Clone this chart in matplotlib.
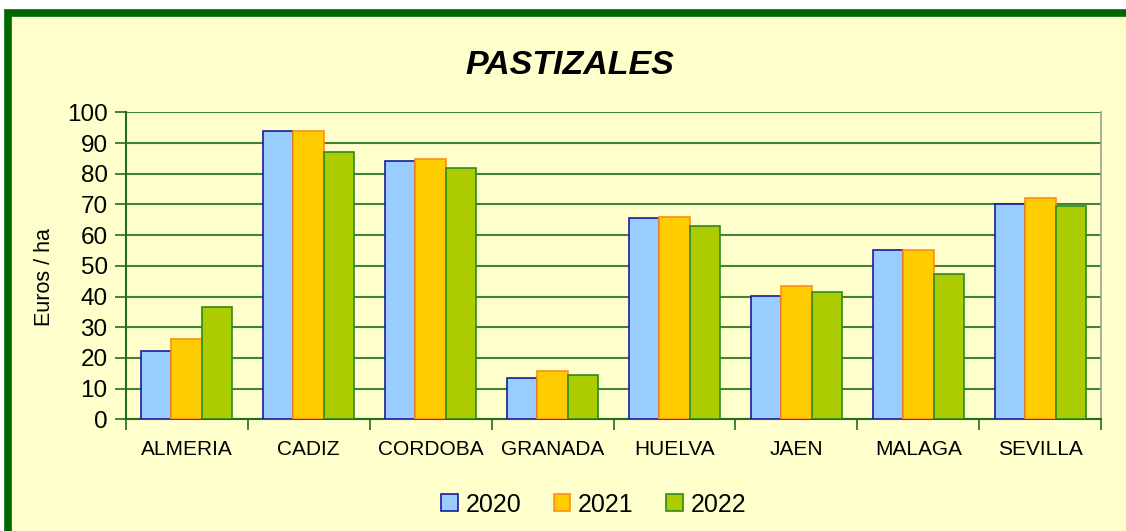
import matplotlib.pyplot as plt
import numpy as np
from matplotlib.patches import Rectangle

provincias = ["ALMERIA", "CADIZ", "CORDOBA", "GRANADA", "HUELVA", "JAEN", "MALAGA", "SEVILLA"]
anios = ["2020", "2021", "2022"]
v2020 = [22.3, 93.9, 84.0, 13.5, 65.6, 40.3, 55.3, 70.0]
v2021 = [26.2, 94.0, 84.7, 15.8, 66.0, 43.3, 55.2, 72.0]
v2022 = [36.5, 87.0, 81.8, 14.5, 62.9, 41.4, 47.4, 69.5]

caras = ['#99CCFF', '#FFCC00', '#AACC00']
bordes = ['#1A1AA0', '#FF8C1A', '#2E8B1E']

plt.rcParams['font.family'] = ['Liberation Sans', 'DejaVu Sans']

W, H = 1126, 531
fig = plt.figure(figsize=(W / 100, H / 100), dpi=100)
fig.patch.set_facecolor('white')

# marco verde del grafico
fig.patches.append(Rectangle((7.8 / W, -0.1), 1.2, 1.1 - 13.5 / H, transform=fig.transFigure,
                             facecolor='#FFFFCC', edgecolor='#006600', linewidth=5.5, zorder=-5))

ax = fig.add_axes([125.7 / W, 1 - 419.3 / H, (1101.3 - 125.7) / W, (419.3 - 112.3) / H])
ax.set_facecolor('#FFFFCC')

x = np.arange(len(provincias))
bw = 0.25
for i, vals in enumerate([v2020, v2021, v2022]):
    ax.bar(x + (i - 1) * bw, vals, bw, color=caras[i], edgecolor=bordes[i],
           linewidth=1.2, label=anios[i], zorder=3)

ax.set_xlim(-0.5, len(provincias) - 0.5)
ax.set_ylim(0, 100)
ax.set_yticks(np.arange(0, 101, 10))
ax.tick_params(axis='y', labelsize=17.5, length=8, width=1.2, color='#1E6E1E', pad=5)
ax.yaxis.grid(True, color='#1E6E1E', linewidth=1.5, alpha=0.85, zorder=1)
ax.set_axisbelow(True)

# ticks entre categorias, etiquetas centradas
ax.set_xticks(np.arange(-0.5, len(provincias) + 0.5, 1))
ax.set_xticklabels([])
ax.set_xticks(x, minor=True)
ax.set_xticklabels(provincias, minor=True)
ax.tick_params(axis='x', which='major', length=8, width=1.2, color='#1E6E1E')
ax.tick_params(axis='x', which='minor', length=0, labelsize=15, pad=15)

for s in ['left', 'bottom']:
    ax.spines[s].set_color('#1E6E1E')
    ax.spines[s].set_linewidth(1.5)
ax.spines['top'].set_visible(False)
ax.spines['right'].set_color('#A0A090')
ax.spines['right'].set_linewidth(1.2)

fig.text(570 / W, 1 - 66 / H, 'PASTIZALES', ha='center', va='center',
         fontsize=24.5, fontweight='bold', fontstyle='italic')
fig.text(45 / W, 1 - 277 / H, 'Euros / ha', ha='center', va='center', rotation=90, fontsize=15.5)

fig.legend(loc='center', bbox_to_anchor=(593.5 / W, 1 - 504.5 / H), ncol=3, frameon=False,
           fontsize=18, handlelength=0.67, handleheight=0.67, handletextpad=0.3,
           columnspacing=1.3)

plt.savefig('out.png', dpi=100, facecolor=fig.get_facecolor())
